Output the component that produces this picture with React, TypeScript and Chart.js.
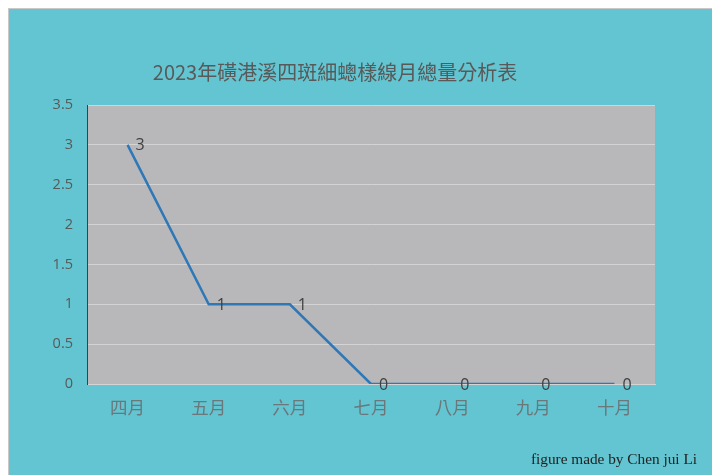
import React, { useEffect, useRef } from "react";
import { Chart, registerables } from "chart.js";

Chart.register(...registerables);

const months = ["四月", "五月", "六月", "七月", "八月", "九月", "十月"];
const counts = [3, 1, 1, 0, 0, 0, 0];
const yTicks = [0, 0.5, 1, 1.5, 2, 2.5, 3, 3.5];
const titleText = "2023年磺港溪四斑細蟌樣線月總量分析表";
const creditText = "figure made by Chen jui Li";

const CJK = '"Noto Sans CJK TC", "Noto Sans", sans-serif';

const decor = {
  id: "decor",
  beforeDraw(chart: any) {
    const { ctx, chartArea } = chart;
    ctx.save();
    ctx.fillStyle = "#b8b7b9";
    ctx.fillRect(chartArea.left, chartArea.top, chartArea.right - chartArea.left, chartArea.bottom - chartArea.top);
    ctx.restore();
  },
  afterDraw(chart: any) {
    const { ctx } = chart;
    ctx.save();
    ctx.fillStyle = "#595959";
    ctx.font = `20px ${CJK}`;
    ctx.textAlign = "center";
    ctx.textBaseline = "middle";
    ctx.fillText(titleText, 326, 63);
    ctx.fillStyle = "#222222";
    ctx.font = '15.3px "Liberation Serif", serif';
    ctx.textAlign = "right";
    ctx.textBaseline = "middle";
    ctx.fillText(creditText, 688, 451);
    // data labels
    const meta = chart.getDatasetMeta(0);
    ctx.fillStyle = "#404040";
    ctx.font = '16px "Open Sans", sans-serif';
    ctx.textAlign = "left";
    ctx.textBaseline = "middle";
    meta.data.forEach((pt: any, i: number) => {
      ctx.fillText(String(counts[i]), pt.x + 8, pt.y + 1);
    });
    ctx.restore();
  },
};

export default function App() {
  const ref = useRef<HTMLCanvasElement>(null);
  useEffect(() => {
    if (!ref.current) return;
    const chart = new Chart(ref.current, {
      type: "line",
      data: {
        labels: months,
        datasets: [
          {
            data: counts,
            borderColor: "#2e78b8",
            borderWidth: 2.5,
            pointRadius: 0,
            tension: 0,
            fill: false,
          },
        ],
      },
      options: {
        animation: false,
        responsive: false,
        devicePixelRatio: 1,
        layout: { padding: { left: 38, right: 58, top: 96, bottom: 51 } },
        plugins: { legend: { display: false }, title: { display: false }, tooltip: { enabled: false } },
        scales: {
          x: {
            offset: true,
            grid: { display: false, drawTicks: false },
            border: { display: true, color: "#d4d4d4", width: 1 },
            ticks: {
              color: "#6a777b",
              font: { family: CJK, size: 17.5 },
              padding: 13,
              maxRotation: 0,
            },
            afterFit(scale: any) {
              scale.height = 40;
            },
          },
          y: {
            min: 0,
            max: 3.5,
            afterBuildTicks(scale: any) {
              scale.ticks = yTicks.map((v) => ({ value: v }));
            },
            grid: { color: "#d4d4d4", lineWidth: 1, drawTicks: false },
            border: { display: true, color: "#404040", width: 1 },
            ticks: {
              color: "#595959",
              font: { family: '"Open Sans", sans-serif', size: 14.5 },
              padding: 14,
              callback: (v: any) => String(v),
            },
            afterFit(scale: any) {
              scale.width = 40;
            },
          },
        },
      },
      plugins: [decor],
    });
    return () => chart.destroy();
  }, []);
  return (
    <div
      style={{
        width: 706,
        height: 467,
        border: "1px solid #c8c8c8",
        borderBottom: "none",
        background: "#63c5d1",
        boxSizing: "border-box",
      }}
    >
      <canvas ref={ref} width={704} height={466} style={{ display: "block" }} />
    </div>
  );
}
